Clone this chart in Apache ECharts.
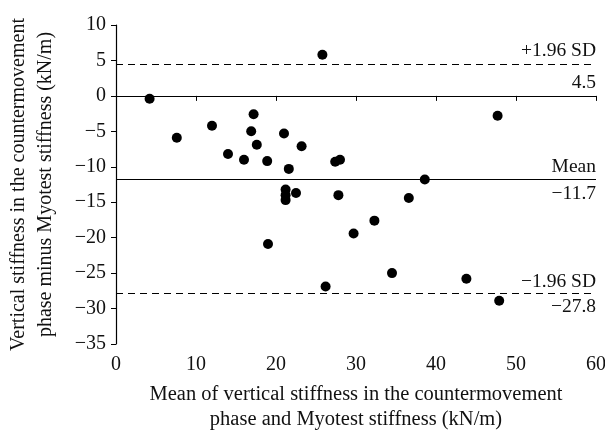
<!DOCTYPE html>
<html>
<head>
<meta charset="utf-8">
<script src="https://cdn.jsdelivr.net/npm/echarts@6/dist/echarts.min.js"></script>
<style>
  html, body { margin: 0; padding: 0; background: #fff; }
  #chart { width: 605px; height: 431px; }
</style>
</head>
<body>
<div id="chart"></div>
<script>
// Bland-Altman points: mean of the two methods vs difference
const meanValues = [4.2, 7.6, 12.0, 14.0, 16.0, 16.9, 17.2, 17.6, 18.9, 21.0, 21.6, 23.2, 25.8, 27.4, 28.0,
  21.2, 21.2, 21.2, 22.5, 27.8, 19.0, 29.7, 26.2, 36.6, 38.6, 32.3, 34.5, 43.8, 47.9, 47.7];
const diffValues = [-0.4, -5.9, -4.2, -8.2, -9.0, -5.0, -2.6, -6.9, -9.2, -5.3, -10.3, -7.1, 5.8, -9.3, -9.0,
  -13.2, -14.0, -14.7, -13.7, -14.0, -20.9, -19.4, -26.9, -14.4, -11.8, -17.6, -25.0, -25.8, -28.9, -2.8];

const meanDiff = -11.7;
const upperLimit = 4.5;
const lowerLimit = -27.8;

const serif = '"Liberation Serif", "DejaVu Serif", serif';
const minus = v => (v < 0 ? '\u2212' + Math.abs(v) : String(v));

const points = meanValues.map((x, i) => [x, diffValues[i]]);

const chart = echarts.init(document.getElementById('chart'));

function limitLine(value, topText, bottomText, dashed, gapTop, gapBottom) {
  const lineStyle = { color: '#000', width: 1.2, type: dashed ? [7, 5] : 'solid' };
  return [
    { yAxis: value, lineStyle, label: { show: true, position: 'insideEndTop', formatter: topText, distance: [0, gapTop] } },
    { yAxis: value, lineStyle, label: { show: true, position: 'insideEndBottom', formatter: bottomText, distance: [0, gapBottom] } }
  ];
}

chart.setOption({
  animation: false,
  grid: { left: 116, right: 9, top: 25, bottom: 87, outerBoundsMode: 'none' },
  textStyle: { fontFamily: serif },
  xAxis: {
    type: 'value',
    min: 0,
    max: 60,
    interval: 10,
    name: 'Mean of vertical stiffness in the countermovement\nphase and Myotest stiffness (kN/m)',
    nameLocation: 'middle',
    nameGap: 38,
    nameMoveOverlap: false,
    nameTextStyle: { fontFamily: serif, fontSize: 20.5, color: '#111', lineHeight: 25, verticalAlign: 'top' },
    axisLine: { show: true, lineStyle: { color: '#000', width: 1.2 } },
    axisTick: { show: true, inside: false, length: 5, lineStyle: { color: '#000' } },
    axisLabel: { fontFamily: serif, fontSize: 20, color: '#111', margin: 11 },
    splitLine: { show: false }
  },
  yAxis: {
    type: 'value',
    min: -35,
    max: 10,
    interval: 5,
    name: 'Vertical stiffness in the countermovement\nphase minus Myotest stiffness (kN/m)',
    nameLocation: 'middle',
    nameGap: 57,
    nameMoveOverlap: false,
    nameRotate: 90,
    nameTextStyle: { fontFamily: serif, fontSize: 20, color: '#111', lineHeight: 27 },
    axisLine: { show: true, lineStyle: { color: '#000', width: 1.2 } },
    axisTick: { show: true, inside: false, length: 5, lineStyle: { color: '#000' } },
    axisLabel: { fontFamily: serif, fontSize: 20, color: '#111', margin: 10, formatter: minus },
    splitLine: { show: false }
  },
  series: [{
    type: 'scatter',
    data: points,
    symbol: 'circle',
    symbolSize: 10,
    itemStyle: { color: '#000', opacity: 1 },
    markLine: {
      silent: true,
      symbol: 'none',
      label: { fontFamily: serif, fontSize: 19.5, lineHeight: 20, color: '#111' },
      data: [
        ...limitLine(upperLimit, '+1.96 SD', String(upperLimit), true, 3, 9),
        ...limitLine(meanDiff, 'Mean', minus(meanDiff), false, 2, 5),
        ...limitLine(lowerLimit, '\u22121.96 SD', minus(lowerLimit), true, 1, 4)
      ]
    }
  }]
});
</script>
</body>
</html>
